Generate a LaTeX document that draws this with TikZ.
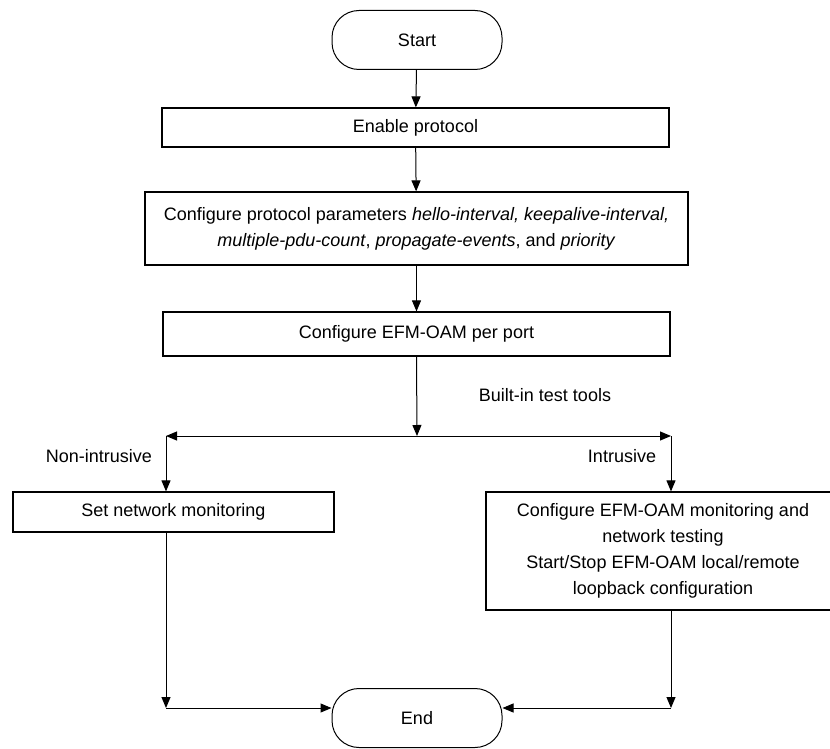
\documentclass[tikz,border=0pt]{standalone}
\usepackage{fontspec}
\setmainfont{Liberation Sans}
\usetikzlibrary{arrows.meta}

\begin{document}
\begin{tikzpicture}[
  x=1pt, y=-1pt,
  font=\fontsize{18}{26}\selectfont,
  box/.style={rectangle, draw, line width=1.2pt, inner sep=0pt, align=center},
  term/.style={rectangle, draw, line width=1pt, rounded corners=27pt, inner sep=0pt, minimum width=170pt, minimum height=59pt},
  edge/.style={-{Triangle[length=11pt, width=9pt]}, line width=1pt},
  link/.style={line width=1pt}
]
\useasboundingbox (0,0) rectangle (830,749);

\node[term] (start) at (417,40) {Start};
\node[box, minimum width=507pt, minimum height=39pt] (enable) at (415.5,127.5) {Enable protocol};
\node[box, minimum width=543pt, minimum height=73pt] (params) at (416.5,228.5)
  {Configure protocol parameters \textit{hello-interval, keepalive-interval,}\\
   \textit{multiple-pdu-count}, \textit{propagate-events}, and \textit{priority}};
\node[box, minimum width=507pt, minimum height=44pt] (efm) at (416.5,334) {Configure EFM-OAM per port};

\coordinate (splitL) at (166,436);
\coordinate (splitM) at (417,436);
\coordinate (splitR) at (671,436);

\node (tools) at (545,395) {Built-in test tools};
\node (nonintr) at (99,456) {Non-intrusive};
\node (intr) at (622,456) {Intrusive};

\node[box, minimum width=321pt, minimum height=40pt] (monitor) at (173.5,512) {Set network monitoring};
\node[box, minimum width=354pt, minimum height=118pt] (testing) at (663,551)
  {Configure EFM-OAM monitoring and\\ network testing\\
   Start/Stop EFM-OAM local/remote\\ loopback configuration};

\node[term] (end) at (417,718) {End};

\coordinate (joinL) at (166,708);
\coordinate (joinR) at (671,708);

% main chain
\draw[edge] (start) -- (enable);
\draw[edge] (enable) -- (params);
\draw[edge] (params) -- (efm);
\draw[edge] (efm.south) -- (splitM);

% split into the two kinds of tests
\draw[edge] (splitM) -- (splitL);
\draw[edge] (splitM) -- (splitR);
\draw[edge] (splitL) -- (splitL |- monitor.north);
\draw[edge] (splitR) -- (splitR |- testing.north);

% join at the end
\draw[edge] (joinL |- monitor.south) -- (joinL);
\draw[edge] (joinL) -- (joinL -| end.west);
\draw[edge] (joinR |- testing.south) -- (joinR);
\draw[edge] (joinR) -- (joinR -| end.east);
\end{tikzpicture}
\end{document}
